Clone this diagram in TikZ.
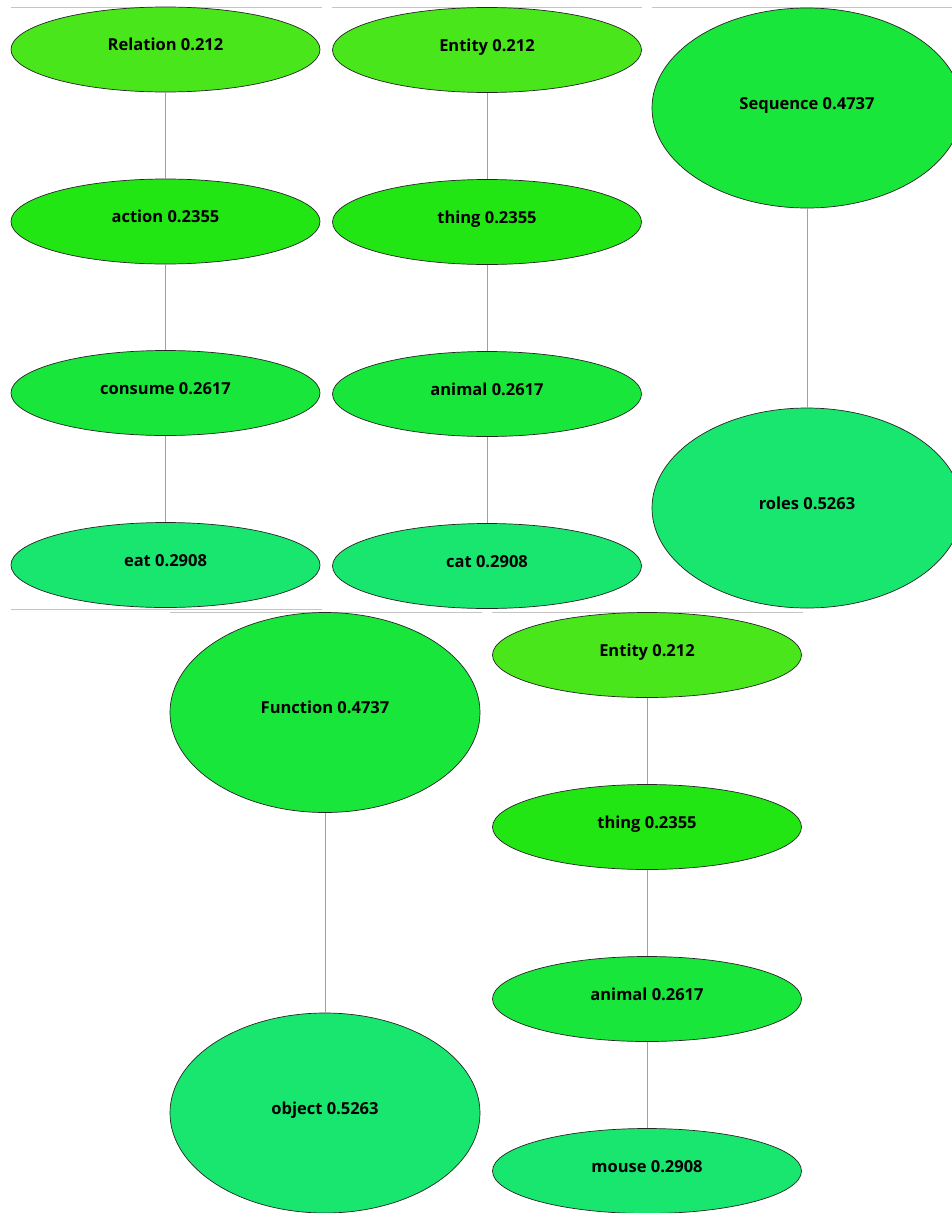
\documentclass[tikz,border=0pt]{standalone}
\usepackage{fontspec}
\setmainfont{Open Sans}
\usetikzlibrary{shapes.geometric}
\definecolor{lvA}{HTML}{48E61A}
\definecolor{lvB}{HTML}{22E614}
\definecolor{lvC}{HTML}{19E63B}
\definecolor{lvD}{HTML}{19E66E}
\definecolor{framegray}{HTML}{C4C4C4}
\definecolor{edgegray}{HTML}{A0A0A0}
\tikzset{
  concept/.style={ellipse, draw=black!85, line width=0.7pt, inner sep=0pt,
    font=\fontsize{16.5}{18}\selectfont\bfseries,
    text height=12pt, text depth=10pt},
  flat/.style={concept, minimum width=309pt, minimum height=85pt},
  tall/.style={concept, minimum width=310pt, minimum height=200pt},
  link/.style={draw=edgegray, line width=0.8pt},
  panelrule/.style={draw=framegray, line width=1pt}
}
\begin{document}
\begin{tikzpicture}[x=1pt, y=-1pt]
\useasboundingbox (0,0) rectangle (952,1213);
\clip (0,0) rectangle (952,1213);

% panel borders
\draw[panelrule] (11,7) -- (322,7);
\draw[panelrule] (332,7) -- (642,7);
\draw[panelrule] (652,7) -- (952,7);
\draw[panelrule] (11,609) -- (322,609);
\draw[panelrule] (170,612) -- (482,612);
\draw[panelrule] (492,612) -- (803,612);

% chain: Relation
\node[flat, fill=lvA] (rel) at (165.5,49.5) {Relation 0.212};
\node[flat, fill=lvB] (act) at (165.5,221.5) {action 0.2355};
\node[flat, fill=lvC] (con) at (165.5,393) {consume 0.2617};
\node[flat, fill=lvD] (eat) at (165.5,565) {eat 0.2908};

% chain: Entity (cat)
\node[flat, fill=lvA] (ent1) at (487,50) {Entity 0.212};
\node[flat, fill=lvB] (thi1) at (487,222) {thing 0.2355};
\node[flat, fill=lvC] (ani1) at (487,394) {animal 0.2617};
\node[flat, fill=lvD] (cat) at (487,566) {cat 0.2908};

% chain: Sequence
\node[tall, fill=lvC] (seq) at (807,108) {Sequence 0.4737};
\node[tall, fill=lvD] (rol) at (807,508) {roles 0.5263};

% chain: Function
\node[tall, fill=lvC] (fun) at (325,712.5) {Function 0.4737};
\node[tall, fill=lvD] (obj) at (325,1113) {object 0.5263};

% chain: Entity (mouse)
\node[flat, fill=lvA] (ent2) at (647,655) {Entity 0.212};
\node[flat, fill=lvB] (thi2) at (647,827) {thing 0.2355};
\node[flat, fill=lvC] (ani2) at (647,999) {animal 0.2617};
\node[flat, fill=lvD] (mou) at (647,1171) {mouse 0.2908};

% links
\draw[link] (rel.south) -- (act.north);
\draw[link] (act.south) -- (con.north);
\draw[link] (con.south) -- (eat.north);
\draw[link] (ent1.south) -- (thi1.north);
\draw[link] (thi1.south) -- (ani1.north);
\draw[link] (ani1.south) -- (cat.north);
\draw[link] (seq.south) -- (rol.north);
\draw[link] (fun.south) -- (obj.north);
\draw[link] (ent2.south) -- (thi2.north);
\draw[link] (thi2.south) -- (ani2.north);
\draw[link] (ani2.south) -- (mou.north);
\end{tikzpicture}
\end{document}
